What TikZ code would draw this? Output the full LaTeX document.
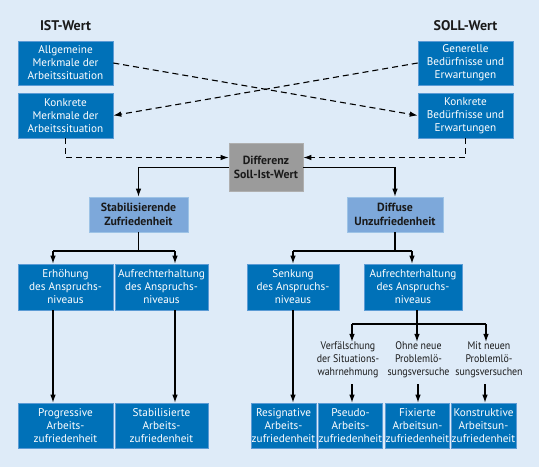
\documentclass[tikz,border=0pt]{standalone}
\usepackage{fontspec}
\setmainfont{PT Sans}
\newfontfamily\labelfont[FakeStretch=0.9]{PT Sans}
\usetikzlibrary{arrows.meta,calc}
\definecolor{bg}{HTML}{DEEBF8}
\definecolor{boxblue}{HTML}{0071B8}
\definecolor{boxedge}{HTML}{5B9BD5}
\definecolor{lightbox}{HTML}{7DA8DA}
\definecolor{greybox}{HTML}{9B9B9B}
\definecolor{txt}{HTML}{1A1A1A}
\tikzset{
  bluebox/.style={fill=boxblue, draw=boxedge, line width=0.6pt, text=white, inner sep=0pt, align=center,
    font=\fontsize{11.2}{13}\selectfont},
  lightboxs/.style={fill=lightbox, draw=boxedge!60, line width=0.6pt, text=txt, inner sep=0pt, align=center,
    font=\fontsize{11.8}{13.5}\selectfont\bfseries},
  greyboxs/.style={fill=greybox, draw=greybox!80!white, line width=0.6pt, text=txt, inner sep=0pt, align=center,
    font=\fontsize{11.8}{13.5}\selectfont\bfseries},
  title/.style={text=txt, font=\fontsize{14}{16}\selectfont\bfseries},
  label/.style={text=txt, align=center, inner sep=0pt, font=\labelfont\fontsize{11}{12.8}\selectfont},
  conn/.style={line width=1.1pt, -{Latex[length=8pt,width=5.5pt]}},
  dconn/.style={line width=1.1pt, dash pattern=on 6pt off 4pt, -{Latex[length=8pt,width=5.5pt]}},
  line/.style={line width=1.1pt},
}
\begin{document}
\begin{tikzpicture}[x=1pt,y=-1pt]
\fill[bg] (0,0) rectangle (539,467);
\useasboundingbox (0,0) rectangle (539,467);

\node[title] (ist) at (65.5,26) {IST-Wert};
\node[title] (soll) at (465.5,26) {SOLL-Wert};

\node[bluebox, minimum width=95pt, minimum height=44pt] (allg) at (65.5,63) {Allgemeine\\Merkmale der\\Arbeitssituation};
\node[bluebox, minimum width=95pt, minimum height=45pt] (konkM) at (65.5,115.5) {Konkrete\\Merkmale der\\Arbeitssituation};
\node[bluebox, minimum width=95pt, minimum height=44pt] (gen) at (465.5,63) {Generelle\\Bedürfnisse und\\Erwartungen};
\node[bluebox, minimum width=95pt, minimum height=45pt] (konkB) at (465.5,115.5) {Konkrete\\Bedürfnisse und\\Erwartungen};

\node[greyboxs, minimum width=74pt, minimum height=48pt] (diff) at (266,167.5) {Differenz\\Soll-Ist-Wert};

\node[lightboxs, minimum width=99pt, minimum height=35pt] (stab) at (138.5,214.5) {Stabilisierende\\Zufriedenheit};
\node[lightboxs, minimum width=96pt, minimum height=35pt] (diffu) at (395,214.5) {Diffuse\\Unzufriedenheit};

\node[bluebox, minimum width=95pt, minimum height=46pt] (erh) at (65.5,287) {Erhöhung\\des Anspruchs-\\niveaus};
\node[bluebox, minimum width=93pt, minimum height=46pt] (aufr1) at (161.5,287) {Aufrechterhaltung\\des Anspruchs-\\niveaus};
\node[bluebox, minimum width=92pt, minimum height=46pt] (senk) at (293,287) {Senkung\\des Anspruchs-\\niveaus};
\node[bluebox, minimum width=98pt, minimum height=46pt] (aufr2) at (413,287) {Aufrechterhaltung\\des Anspruchs-\\niveaus};

\node[label] (verf) at (348,360) {Verfälschung\\der Situations-\\wahrnehmung};
\node[label] (ohne) at (418.5,360) {Ohne neue\\Problemlö-\\sungsversuche};
\node[label] (mit) at (489,360) {Mit neuen\\Problemlö-\\sungsversuchen};

\node[bluebox, minimum width=95pt, minimum height=45pt] (prog) at (65.5,425.5) {Progressive\\Arbeits-\\zufriedenheit};
\node[bluebox, minimum width=93pt, minimum height=45pt] (stabil) at (161.5,425.5) {Stabilisierte\\Arbeits-\\zufriedenheit};
\node[bluebox, minimum width=65pt, minimum height=45pt] (resig) at (283.5,425.5) {Resignative\\Arbeits-\\zufriedenheit};
\node[bluebox, minimum width=63pt, minimum height=45pt] (pseudo) at (350.5,425.5) {Pseudo-\\Arbeits-\\zufriedenheit};
\node[bluebox, minimum width=63pt, minimum height=45pt] (fix) at (417.5,425.5) {Fixierte\\Arbeitsun-\\zufriedenheit};
\node[bluebox, minimum width=65pt, minimum height=45pt] (konst) at (483.5,425.5) {Konstruktive\\Arbeitsun-\\zufriedenheit};

% dashed crossing connectors
\draw[dconn] (allg.east) -- (konkB.west);
\draw[dconn] (gen.west) -- (konkM.east);
\draw[dconn] (konkM.south) |- ([yshift=10pt]diff.west);
\draw[dconn] (konkB.south) |- ([yshift=10pt]diff.east);

% solid connectors
\draw[conn] (diff.west) -| (stab.north);
\draw[conn] (diff.east) -| (diffu.north);

\coordinate (sj) at (138.5,251);
\coordinate (sa) at (53,251);
\coordinate (sb) at (175,251);
\draw[line] (stab.south) -- (sj);
\draw[line] (sa) -- (sb);
\draw[conn] (sa) -- (sa |- erh.north);
\draw[conn] (sb) -- (sb |- aufr1.north);

\coordinate (dj) at (395,251);
\coordinate (da) at (293,251);
\coordinate (db) at (412,251);
\draw[line] (diffu.south) -- (dj);
\draw[line] (da) -- (db);
\draw[conn] (da) -- (da |- senk.north);
\draw[conn] (db) -- (db |- aufr2.north);

\coordinate (ea) at (53,310);
\coordinate (eb) at (175,310);
\draw[conn] (ea) -- (ea |- prog.north);
\draw[conn] (eb) -- (eb |- stabil.north);
\draw[conn] (senk.south) -- (senk.south |- resig.north);

\coordinate (aj) at (417,324);
\coordinate (a1) at (352,324);
\coordinate (a3) at (486,324);
\coordinate (b1) at (352,384);
\coordinate (bj) at (418,384);
\coordinate (b3) at (485,384);
\draw[line] (aufr2.south -| aj) -- (aj);
\draw[line] (a1) -- (a3);
\draw[conn] (a1) -- (a1 |- verf.north);
\draw[conn] (aj) -- (aj |- ohne.north);
\draw[conn] (a3) -- (a3 |- mit.north);

\draw[conn] (b1) -- (b1 |- pseudo.north);
\draw[conn] (bj) -- (bj |- fix.north);
\draw[conn] (b3) -- (b3 |- konst.north);
\end{tikzpicture}
\end{document}
